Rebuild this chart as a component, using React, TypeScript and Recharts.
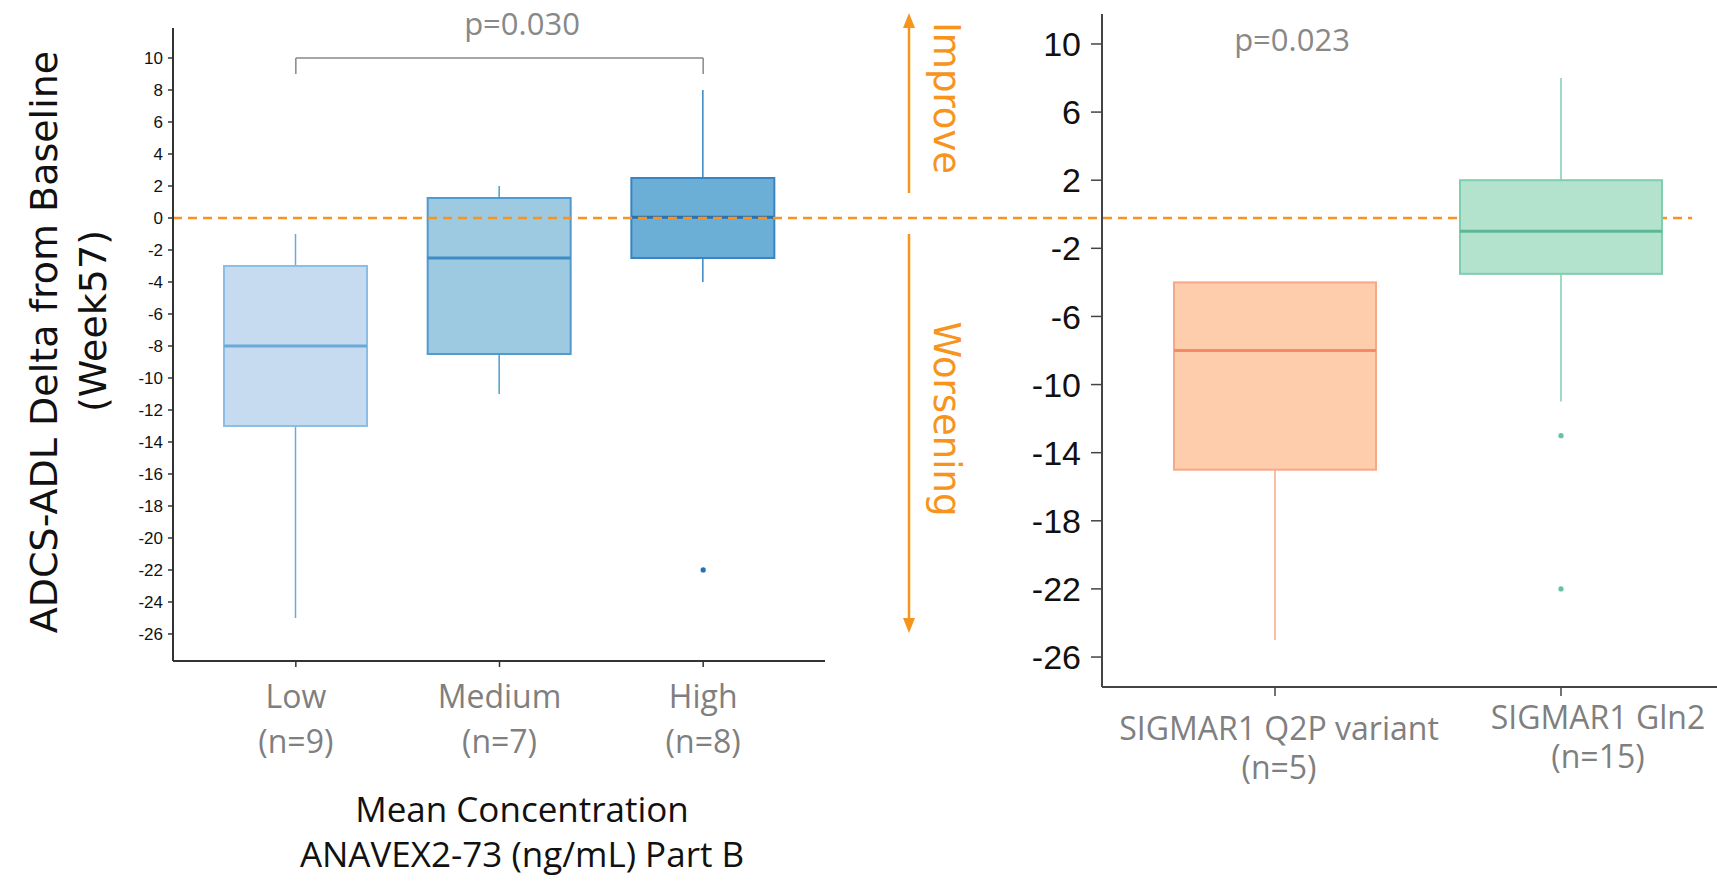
import React from "react";
import { ComposedChart, Bar, Line, XAxis, YAxis, ReferenceLine } from "recharts";

// left panel: ADCS-ADL change by mean concentration group
const leftGroups = ["Low", "Medium", "High"];
const leftCounts = ["(n=9)", "(n=7)", "(n=8)"];
const leftMin = [-25, -11, -4];
const leftQ1 = [-13, -8.5, -2.5];
const leftMedian = [-8, -2.5, 0.05];
const leftQ3 = [-3, 1.25, 2.5];
const leftMax = [-1, 2, 8];
const leftOutlier = [null, null, -22];
const leftTicks = [10, 8, 6, 4, 2, 0, -2, -4, -6, -8, -10, -12, -14, -16, -18, -20, -22, -24, -26];

// right panel: SIGMAR1 genotype
const rightGroups = ["SIGMAR1 Q2P variant", "SIGMAR1 Gln2"];
const rightCounts = ["(n=5)", "(n=15)"];
const rightMin = [-25, -11];
const rightQ1 = [-15, -3.5];
const rightMedian = [-8, -1];
const rightQ3 = [-4, 2];
const rightMax = [-4, 8];
const rightOutlierA = [null, -13];
const rightOutlierB = [null, -22];
const rightTicks = [10, 6, 2, -2, -6, -10, -14, -18, -22, -26];

const leftData = leftGroups.map((name, i) => ({
  name,
  range: [leftMin[i], leftMax[i]],
  min: leftMin[i],
  q1: leftQ1[i],
  median: leftMedian[i],
  q3: leftQ3[i],
  max: leftMax[i],
  out1: leftOutlier[i],
}));

const rightData = rightGroups.map((name, i) => ({
  name,
  range: [rightMin[i], rightMax[i]],
  min: rightMin[i],
  q1: rightQ1[i],
  median: rightMedian[i],
  q3: rightQ3[i],
  max: rightMax[i],
  out1: rightOutlierA[i],
  out2: rightOutlierB[i],
}));

const leftPalette = [
  { fill: "#c6dbef", stroke: "#8cbee3", median: "#6aaad8", whisker: "#6aaad8" },
  { fill: "#9ecae1", stroke: "#4f9bd0", median: "#3d8cc6", whisker: "#4f9bd0" },
  { fill: "#6baed6", stroke: "#3a84c3", median: "#2a6fb0", whisker: "#3a84c3" },
];
const rightPalette = [
  { fill: "#fdcdac", stroke: "#f8a88a", median: "#f58b66", whisker: "#f8a88a" },
  { fill: "#b3e2cd", stroke: "#80ceb1", median: "#5db797", whisker: "#80ceb1" },
];

const ORANGE = "#f7941d";
const GREY = "#7f7f7f";
const LABEL_FONT = "'Open Sans', 'Noto Sans', sans-serif";
const TICK_FONT = "'Liberation Sans', Arial, sans-serif";
const TITLE_FONT = "'DejaVu Sans', sans-serif";

// the bar spans [min, max]; the rest of the box is placed on the same pixel scale
function makeBox(palette: typeof leftPalette) {
  return (props: any) => {
    const { x, y, width, height, payload, index } = props;
    const p = palette[index] || palette[0];
    const top = Math.min(y, y + height);
    const h = Math.abs(height);
    const k = payload.max === payload.min ? 0 : h / (payload.max - payload.min);
    const yOf = (v: number) => top + (payload.max - v) * k;
    const cx = x + width / 2;
    return (
      <g>
        <line x1={cx} x2={cx} y1={yOf(payload.max)} y2={yOf(payload.q3)} stroke={p.whisker} strokeWidth={1.5} />
        <line x1={cx} x2={cx} y1={yOf(payload.q1)} y2={yOf(payload.min)} stroke={p.whisker} strokeWidth={1.5} />
        <rect
          x={x}
          y={yOf(payload.q3)}
          width={width}
          height={yOf(payload.q1) - yOf(payload.q3)}
          fill={p.fill}
          stroke={p.stroke}
          strokeWidth={2}
        />
        <line x1={x} x2={x + width} y1={yOf(payload.median)} y2={yOf(payload.median)} stroke={p.median} strokeWidth={3} />
      </g>
    );
  };
}

const LeftTick = (props: any) => {
  const { x, payload } = props;
  const i = leftGroups.indexOf(payload.value);
  return (
    <g fontFamily={LABEL_FONT} fontSize={32} fill={GREY} textAnchor="middle">
      <text x={x} y={708}>{payload.value}</text>
      <text x={x} y={753}>{leftCounts[i]}</text>
    </g>
  );
};

const rightLabelShift = [
  { dx: 4, dy: 0 },
  { dx: 37, dy: -11 },
];

const RightTick = (props: any) => {
  const { x, payload } = props;
  const i = rightGroups.indexOf(payload.value);
  const s = rightLabelShift[i] || { dx: 0, dy: 0 };
  return (
    <g fontFamily={LABEL_FONT} fontSize={32} fill={GREY} textAnchor="middle">
      <text x={x + s.dx} y={740 + s.dy}>{payload.value}</text>
      <text x={x + s.dx} y={779 + s.dy}>{rightCounts[i]}</text>
    </g>
  );
};

// dashed zero line is carried on past the left plot, across the right panel
const ZeroLine = (props: any) => {
  const { x1, y1 } = props;
  return <line x1={x1} x2={1692} y1={y1} y2={y1} stroke={ORANGE} strokeWidth={2.5} strokeDasharray="9 6" />;
};

export default function App() {
  return (
    <div style={{ position: "absolute", left: 0, top: 0, width: 1717, height: 884, background: "#fff" }}>
      <div style={{ position: "absolute", left: 0, top: 0 }}>
        <ComposedChart width={1717} height={884} data={leftData} margin={{ top: 28, right: 892, bottom: 0, left: 0 }}>
          <XAxis
            dataKey="name"
            type="category"
            height={223}
            padding={{ left: 21, right: 20 }}
            axisLine={{ stroke: "#333", strokeWidth: 2 }}
            tickLine={{ stroke: "#333", strokeWidth: 1.5 }}
            tickSize={6}
            tick={<LeftTick />}
            interval={0}
          />
          <YAxis
            type="number"
            domain={[-27.69, 11.875]}
            ticks={leftTicks}
            width={173}
            interval={0}
            axisLine={{ stroke: "#333", strokeWidth: 2 }}
            tickLine={{ stroke: "#333", strokeWidth: 1.5 }}
            tickSize={5}
            tickMargin={5}
            tick={{ fontFamily: TICK_FONT, fontSize: 17, fill: "#111" }}
            allowDataOverflow
          />
          <Bar dataKey="range" barSize={143} shape={makeBox(leftPalette)} isAnimationActive={false} />
          <Line
            dataKey="out1"
            stroke="none"
            dot={{ r: 2.6, fill: "#2171b5", stroke: "none" }}
            activeDot={false}
            isAnimationActive={false}
          />
          <ReferenceLine y={0} shape={ZeroLine} />
          <ReferenceLine segment={[{ x: "Low", y: 10 }, { x: "High", y: 10 }]} stroke="#888" strokeWidth={1.5} />
          <ReferenceLine segment={[{ x: "Low", y: 10 }, { x: "Low", y: 9 }]} stroke="#888" strokeWidth={1.5} />
          <ReferenceLine segment={[{ x: "High", y: 10 }, { x: "High", y: 9 }]} stroke="#888" strokeWidth={1.5} />
        </ComposedChart>
      </div>

      <div style={{ position: "absolute", left: 830, top: 0 }}>
        <ComposedChart width={887} height={884} data={rightData} margin={{ top: 14, right: 0, bottom: 0, left: 0 }}>
          <XAxis
            dataKey="name"
            type="category"
            height={197}
            padding={{ left: 30, right: 13 }}
            axisLine={{ stroke: "#444", strokeWidth: 2 }}
            tickLine={{ stroke: "#444", strokeWidth: 1.5 }}
            tickSize={9}
            tick={<RightTick />}
            interval={0}
          />
          <YAxis
            type="number"
            domain={[-27.76, 11.76]}
            ticks={rightTicks}
            width={272}
            interval={0}
            axisLine={{ stroke: "#444", strokeWidth: 2 }}
            tickLine={{ stroke: "#444", strokeWidth: 1.5 }}
            tickSize={11}
            tickMargin={10}
            tick={{ fontFamily: TICK_FONT, fontSize: 34, fill: "#111" }}
            allowDataOverflow
          />
          <Bar dataKey="range" barSize={202} shape={makeBox(rightPalette)} isAnimationActive={false} />
          <Line dataKey="out1" stroke="none" dot={{ r: 2.6, fill: "#66c2a4", stroke: "none" }} activeDot={false} isAnimationActive={false} />
          <Line dataKey="out2" stroke="none" dot={{ r: 2.6, fill: "#66c2a4", stroke: "none" }} activeDot={false} isAnimationActive={false} />
        </ComposedChart>
      </div>

      <svg width={1717} height={884} style={{ position: "absolute", left: 0, top: 0, pointerEvents: "none" }}>
        <g fontFamily={TITLE_FONT} fontSize={38} fill="#111" textAnchor="middle">
          <text transform="translate(57,342) rotate(-90)">ADCS-ADL Delta from Baseline</text>
          <text transform="translate(106,321) rotate(-90)">(Week57)</text>
        </g>
        <g fontFamily={LABEL_FONT} fontSize={31} fill="#888" textAnchor="middle">
          <text x={522} y={35}>p=0.030</text>
          <text x={1292} y={51}>p=0.023</text>
        </g>
        <g fontFamily={LABEL_FONT} fontSize={35} fill="#111" textAnchor="middle">
          <text x={522} y={822}>Mean Concentration</text>
          <text x={522} y={867}>ANAVEX2-73 (ng/mL) Part B</text>
        </g>
        <g stroke={ORANGE} strokeWidth={2.5} fill={ORANGE}>
          <line x1={909} x2={909} y1={193} y2={26} />
          <polygon points="909,13 903,28 915,28" stroke="none" />
          <line x1={909} x2={909} y1={234} y2={620} />
          <polygon points="909,633 903,618 915,618" stroke="none" />
        </g>
        <g fontFamily={TITLE_FONT} fontSize={37} fill={ORANGE} textAnchor="middle">
          <text transform="translate(934,98) rotate(90)">Improve</text>
          <text transform="translate(934,419) rotate(90)">Worsening</text>
        </g>
      </svg>
    </div>
  );
}
